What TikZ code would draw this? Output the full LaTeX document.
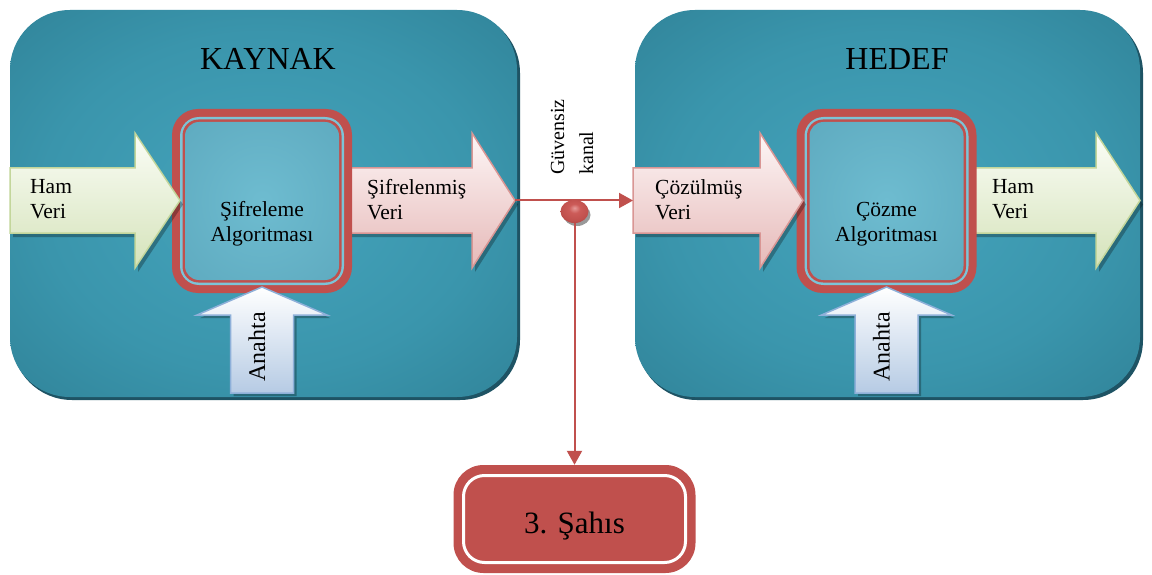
\documentclass[tikz,border=0pt]{standalone}
\usepackage{fontspec}
\setmainfont{Liberation Serif}
\usetikzlibrary{arrows.meta,shapes.geometric}

% palette
\definecolor{panelin}{HTML}{45A4BC}
\definecolor{panelmid}{HTML}{3A95AC}
\definecolor{panelout}{HTML}{2E7F94}
\definecolor{panelshade}{HTML}{1E5364}
\definecolor{algored}{HTML}{C0504D}
\definecolor{algogap}{HTML}{7CC4D7}
\definecolor{algoin}{HTML}{6EBCD0}
\definecolor{algoout}{HTML}{5FABC0}
\definecolor{greentop}{HTML}{FBFDF7}
\definecolor{greenbot}{HTML}{D5E3BA}
\definecolor{greenline}{HTML}{C3D69B}
\definecolor{pinktop}{HTML}{FDF6F6}
\definecolor{pinkbot}{HTML}{E6B9B8}
\definecolor{pinkline}{HTML}{D99694}
\definecolor{bluetop}{HTML}{FFFFFF}
\definecolor{bluebot}{HTML}{B6CBE4}
\definecolor{blueline}{HTML}{8EB0D9}
\definecolor{taplight}{HTML}{E69A98}
\definecolor{tapmid}{HTML}{CC5B58}
\definecolor{tapdark}{HTML}{A83E3B}

\pgfdeclareradialshading{panelglow}{\pgfpoint{0bp}{0bp}}{color(0bp)=(panelin); color(22bp)=(panelmid); color(40bp)=(panelout); color(50bp)=(panelout)}
\pgfdeclareradialshading{algoglow}{\pgfpoint{0bp}{0bp}}{color(0bp)=(algoin); color(35bp)=(algoout); color(50bp)=(algoout)}
\pgfdeclareradialshading{tapglow}{\pgfpoint{0bp}{8bp}}{color(0bp)=(taplight); color(10bp)=(tapmid); color(24bp)=(algored); color(34bp)=(tapdark); color(50bp)=(tapdark)}

% wide arrow pointing right: shaft start, head start, tip, style
\newcommand{\fatarrowright}[4]{%
  \fill[arrowshadow,shift={(3,4)}] (#1,168) -- (#2,168) -- (#2,133) -- (#3,200.5) -- (#2,268) -- (#2,233) -- (#1,233) -- cycle;
  \draw[#4] (#1,168) -- (#2,168) -- (#2,133) -- (#3,200.5) -- (#2,268) -- (#2,233) -- (#1,233) -- cycle;}
% wide key arrow pointing up, centred on #1
\newcommand{\fatarrowup}[1]{%
  \fill[arrowshadow,shift={(3,3)}] ({#1-31.5},393) -- ({#1-31.5},315) -- ({#1-65},315) -- (#1,287) -- ({#1+65},315) -- ({#1+31.5},315) -- ({#1+31.5},393) -- cycle;
  \draw[bluearrow] ({#1-31.5},393) -- ({#1-31.5},315) -- ({#1-65},315) -- (#1,287) -- ({#1+65},315) -- ({#1+31.5},315) -- ({#1+31.5},393) -- cycle;}

\begin{document}
\begin{tikzpicture}[x=1pt,y=-1pt,
  panel/.style={shading=panelglow, rounded corners=60pt},
  panelshadow/.style={fill=panelshade, rounded corners=60pt},
  paneltitle/.style={inner sep=0pt, font=\fontsize{32}{36}\selectfont},
  flowtext/.style={inner sep=0pt, align=left, anchor=west, font=\fontsize{21.5}{25}\selectfont},
  algotext/.style={inner sep=0pt, align=center, font=\fontsize{21.5}{25}\selectfont},
  keytext/.style={inner sep=0pt, rotate=90, font=\fontsize{24}{28}\selectfont},
  chantext/.style={inner sep=0pt, rotate=90, align=left, anchor=west, font=\fontsize{20}{29}\selectfont},
  arrowshadow/.style={fill=black, fill opacity=0.28},
  greenarrow/.style={draw=greenline, line width=1.5pt, top color=greentop, bottom color=greenbot},
  pinkarrow/.style={draw=pinkline, line width=1.5pt, top color=pinktop, bottom color=pinkbot},
  bluearrow/.style={draw=blueline, line width=1.5pt, top color=bluetop, bottom color=bluebot},
  channel/.style={draw=algored, line width=2pt},
  chanhead/.style={-{Triangle[length=14pt,width=15pt]}},
  tapball/.style={ellipse, minimum width=28pt, minimum height=23pt, inner sep=0pt, shading=tapglow},
  thirdbox/.style={fill=algored, rounded corners=30pt, minimum width=242pt, minimum height=108pt, inner sep=0pt},
  thirdtext/.style={inner sep=0pt, font=\fontsize{31}{36}\selectfont}
]
\useasboundingbox (0,0) rectangle (1152,575);
\fill[white] (0,0) rectangle (1152,575);

% source and destination panels
\fill[panelshadow] (12,13) rectangle (520,400);
\shade[panel] (10,10) rectangle (517,397);
\fill[panelshadow] (637,13) rectangle (1143,400);
\shade[panel] (635,10) rectangle (1140,397);
\node[paneltitle] (srctitle) at (268,59) {KAYNAK};
\node[paneltitle] (dsttitle) at (897,59) {HEDEF};

% outgoing data arrows (behind the algorithm boxes)
\fatarrowright{345}{472}{515}{pinkarrow}
\fatarrowright{969}{1096}{1140}{greenarrow}

% algorithm boxes
\foreach \cx in {262,886.5}{
  \fill[algored, rounded corners=26pt] ({\cx-90},109) rectangle ({\cx+90},293);
  \fill[algogap, rounded corners=19pt] ({\cx-82},117) rectangle ({\cx+82},285);
  \fill[algored, rounded corners=16pt] ({\cx-79.5},119.5) rectangle ({\cx+79.5},282.5);
  \shade[shading=algoglow, rounded corners=14pt] ({\cx-77},122) rectangle ({\cx+77},280);
}

% incoming data arrows and key arrows
\fatarrowright{10}{135}{180}{greenarrow}
\fatarrowright{633}{760}{803}{pinkarrow}
\fatarrowup{262}
\fatarrowup{886.5}

% texts
\node[flowtext] (rawin) at (30,199.5) {Ham\\Veri};
\node[flowtext] (encdata) at (367,199.5) {Şifrelenmiş\\Veri};
\node[flowtext] (decdata) at (655,199.5) {Çözülmüş\\Veri};
\node[flowtext] (rawout) at (992,199.5) {Ham\\Veri};
\node[algotext] (enc) at (262,224) {Şifreleme\\Algoritması};
\node[algotext] (dec) at (886.5,224) {Çözme\\Algoritması};
\node[keytext] (enckey) at (257,347) {Anahta};
\node[keytext] (deckey) at (881.5,347) {Anahta};

% insecure channel
\coordinate (encout) at (515,200.5);
\coordinate (decin) at (633,200.5);
\node[chantext] (chanlabel) at (572,175) {Güvensiz\\kanal};
\draw[channel, chanhead] (encout) -- (decin);

% third party
\node[thirdbox] (third) at (574.5,519) {};
\draw[white, line width=3pt, rounded corners=21pt] (463.5,475.5) rectangle (685.5,562.5);
\node[thirdtext] (thirdlabel) at (574.5,526) {3. Şahıs};

% eavesdropping tap
\fill[black, opacity=0.4] (577,215) ellipse [x radius=13.5, y radius=11];
\node[tapball] (tap) at (574.5,211.5) {};
\draw[channel, chanhead] (tap.south) -- (third.north);
\end{tikzpicture}
\end{document}
